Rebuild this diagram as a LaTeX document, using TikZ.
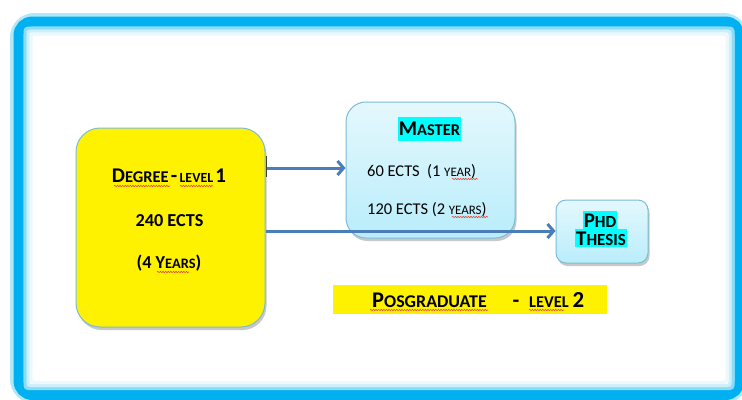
\documentclass[tikz,border=0pt]{standalone}
\usepackage{fontspec}
\setmainfont{Carlito}
\usetikzlibrary{shadows,arrows.meta,decorations.pathmorphing}
\definecolor{frameblue}{HTML}{00B0F0}
\definecolor{arrowblue}{HTML}{4A7EBB}
\definecolor{boxedge}{HTML}{7DBCD6}
\definecolor{hlcyan}{HTML}{00FFFF}
\definecolor{wavyred}{HTML}{E04A3A}
\definecolor{mtop}{HTML}{E4F8FD}
\definecolor{mbot}{HTML}{B9EDFB}
\newcommand\fs[2]{{\fontsize{#1}{#1}\selectfont #2}}
\tikzset{
  boxshadow/.style={drop shadow={opacity=0.3, shadow xshift=1.5bp, shadow yshift=-3bp, fill=black!70}},
  degbox/.style={draw=boxedge, line width=1bp, fill=yellow, rounded corners=24bp, boxshadow,
    minimum width=189bp, minimum height=199bp, inner sep=0pt},
  mastbox/.style={draw=boxedge, line width=1bp, top color=mtop, bottom color=mbot, rounded corners=20bp, boxshadow,
    minimum width=169bp, minimum height=136bp, inner sep=0pt},
  phdbox/.style={draw=boxedge, line width=1bp, top color=mtop, bottom color=mbot, rounded corners=10bp, boxshadow,
    minimum width=92bp, minimum height=63bp, inner sep=0pt},
  lbl/.style={inner sep=0pt, anchor=base, text=black},
  hlm/.style={fill=hlcyan, inner xsep=1bp, inner ysep=0bp, text height=18bp, text depth=6bp, anchor=base, text=black},
  hlp/.style={fill=hlcyan, inner xsep=1bp, inner ysep=0bp, text height=16bp, text depth=2bp, anchor=base, text=black},
  conn/.style={draw=arrowblue, line width=3bp, -{Straight Barb[length=6bp,width=14bp]}},
  spell/.style={draw=wavyred, line width=0.6bp, decorate, decoration={snake, amplitude=0.7bp, segment length=2.6bp}},
}
\begin{document}
\begin{tikzpicture}[x=1bp,y=-1bp]
\path[use as bounding box, fill=white] (0,0) rectangle (742,399);
% frame with glow
\draw[frameblue!30, line width=17bp, rounded corners=16bp] (18.5,21.5) rectangle (739.5,395);
\draw[frameblue, line width=10bp, rounded corners=14bp] (18.5,21.5) rectangle (739.5,395);
\draw[frameblue!45, line width=3bp, rounded corners=3bp] (25,28) rectangle (733,388.5);
\draw[frameblue!20, line width=3bp, rounded corners=3bp] (28,31) rectangle (730,385.5);
\draw[frameblue!8, line width=3bp, rounded corners=3bp] (31,34) rectangle (727,382.5);

% boxes
\node[degbox] (deg) at (170.5,227.5) {};
\node[mastbox] (mast) at (430.5,170) {};
\node[phdbox] (phd) at (602,231.5) {};
\node[fill=yellow, minimum width=274bp, minimum height=29bp, inner sep=0pt] (pgbar) at (470,299.5) {};

% arrows
\coordinate (a1) at (266,168);
\coordinate (a2) at (265.5,231);
\draw[conn] (a1) -- (a1 -| mast.west);
\draw[conn] (a2) -- (a2 -| phd.west);
\coordinate (tk1) at (266,156);
\coordinate (tk2) at (266,177);
\draw[black!75, line width=0.8bp] (tk1) -- (tk2);

% degree texts
\node[lbl] (d1) at (169,182) {\bfseries\fs{21}{D}\fs{16.5}{EGREE} \fs{21}{-} \fs{14}{LEVEL} \fs{21}{1}};
\node[lbl] (d2) at (169.5,226) {\bfseries\fs{18.3}{240 ECTS}};
\node[lbl] (d3) at (169,268) {\bfseries\fs{18.3}{(4 Y}\fs{14.5}{EARS}\fs{18.3}{)}};

% master texts
\node[hlm] (m1) at (429.5,135) {\bfseries\fs{21}{M}\fs{16.5}{ASTER}};
\node[lbl, anchor=base west] (m2) at (367,176) {\fs{16.5}{60 ECTS\ \ (1 }\fs{13}{YEAR}\fs{16.5}{)}};
\node[lbl, anchor=base west] (m3) at (367,214) {\fs{16.5}{120 ECTS (2 }\fs{13}{YEARS}\fs{16.5}{)}};

% phd texts
\node[hlp] (p1) at (600,227) {\bfseries\fs{21}{P}\fs{17}{HD}};
\node[hlp] (p2) at (601,245) {\bfseries\fs{21}{T}\fs{17}{HESIS}};

% posgraduate
\node[lbl, anchor=base west] (pg) at (372,307) {\bfseries\fs{22.5}{P}\fs{18}{OSGRADUATE}};
\node[lbl] (pgd) at (516,307) {\bfseries\fs{22}{-}};
\node[lbl, anchor=base west] (pgl) at (529,307) {\bfseries\fs{16.5}{LEVEL}\fs{23}{\,2}};

% spelling marks
\draw[spell] (114,186) -- (170,186);
\draw[spell] (180,186) -- (213,186);
\draw[spell] (157,272) -- (189,272);
\draw[spell] (452,179) -- (478,179);
\draw[spell] (452,217) -- (488,217);
\draw[spell] (370,310) -- (488,310);
\draw[spell] (529,310) -- (564,310);
\end{tikzpicture}
\end{document}
